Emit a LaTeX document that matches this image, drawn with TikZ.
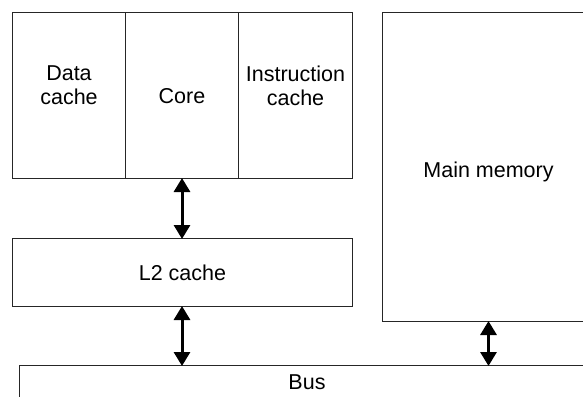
\documentclass[tikz,border=0pt]{standalone}
\usepackage{fontspec}
\setmainfont{Liberation Sans}
\usetikzlibrary{arrows.meta}
\begin{document}
\begin{tikzpicture}[x=1pt,y=-1pt,
  box/.style={draw=black!85, line width=1pt, rectangle, inner sep=0pt, anchor=north west},
  lbl/.style={font=\fontsize{21.5}{24}\selectfont, align=center, inner sep=0pt},
  link/.style={line width=3pt, {Triangle[width=16pt,length=14pt]}-{Triangle[width=16pt,length=14pt]}, shorten <=-1pt, shorten >=-1pt}]
\useasboundingbox (0,0) rectangle (583,396);
\clip (0,0) rectangle (583,396);
\node[box, minimum width=113pt, minimum height=166pt] (data) at (12,12) {};
\node[box, minimum width=113pt, minimum height=166pt] (core) at (125,12) {};
\node[box, minimum width=114pt, minimum height=166pt] (instr) at (238,12) {};
\node[lbl] (datat) at ([yshift=10pt]data.center) {Data\\cache};
\node[lbl] (coret) at ([yshift=-1pt]core.center) {Core};
\node[lbl] (instrt) at ([yshift=10pt]instr.center) {Instruction\\cache};
\node[box, minimum width=340pt, minimum height=68pt] (l2) at (12,238) {};
\node[lbl] (l2t) at (l2.center) {L2 cache};
\node[box, minimum width=212pt, minimum height=309pt] (mm) at (382,12) {};
\node[lbl] (mmt) at ([yshift=-5pt]mm.center) {Main memory};
\node[box, minimum width=580pt, minimum height=40pt] (bus) at (19,365) {};
\node[lbl] (bust) at (307,382) {Bus};
\draw[link] (core.south) -- (l2.north -| core.south);
\draw[link] (l2.south -| core.south) -- (bus.north -| core.south);
\draw[link] (mm.south) -- (bus.north -| mm.south);
\end{tikzpicture}
\end{document}
